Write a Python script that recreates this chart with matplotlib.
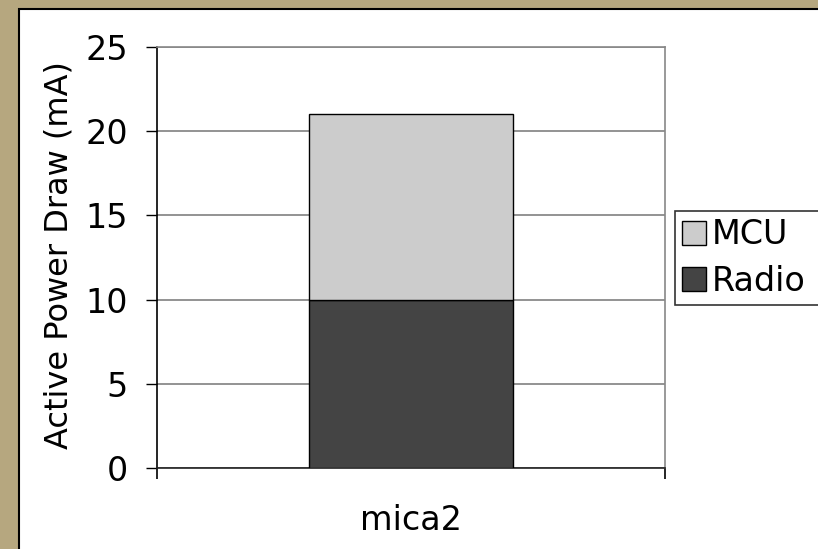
import matplotlib.pyplot as plt
from matplotlib.patches import Rectangle

# data
categories = ['mica2']
radio = [10]
mcu = [11]
series_names = ['MCU', 'Radio']

fig = plt.figure(figsize=(8.18, 5.49), dpi=100, facecolor='#b6a77f')

# white slide panel with black border
panel = Rectangle((19 / 818, -0.05), 1.1, (549 - 9) / 549 + 0.05,
                  transform=fig.transFigure, facecolor='white',
                  edgecolor='black', linewidth=1.5, zorder=-5)
fig.patches.append(panel)

ax = fig.add_axes([157 / 818, (549 - 468) / 549, (665 - 157) / 818, (468 - 47) / 549])
ax.set_facecolor('white')

x = list(range(len(categories)))
b1 = ax.bar(x, radio, width=0.40, color='#444444', edgecolor='black', linewidth=1, zorder=3)
b2 = ax.bar(x, mcu, bottom=radio, width=0.40, color='#cccccc', edgecolor='black', linewidth=1, zorder=3)

ax.set_xlim(-0.5, 0.5)
ax.set_ylim(0, 25)
ax.set_yticks([0, 5, 10, 15, 20, 25])
ax.grid(axis='y', color='#808080', linewidth=1.2, zorder=1)

# spines like excel
ax.spines['left'].set_color('black')
ax.spines['bottom'].set_color('#222222')
ax.spines['top'].set_color('#888888')
ax.spines['right'].set_color('#888888')
for s in ax.spines.values():
    s.set_linewidth(1.2)

ax.tick_params(axis='y', direction='out', length=8, width=1, pad=13, labelsize=24)
ax.set_xticks(x)
ax.set_xticklabels(categories)
ax.tick_params(axis='x', which='major', length=0, pad=26, labelsize=24)
ax.set_xticks([-0.5, 0.5], minor=True)
ax.tick_params(axis='x', which='minor', direction='out', length=8, width=1.2)

ax.set_ylabel('Active Power Draw (mA)', fontsize=23)
ax.yaxis.set_label_coords(-0.162, 0.506)

# legend box runs off the right edge like in the slide
leg = fig.legend([b2, b1], series_names, loc='upper left',
                 bbox_to_anchor=(675 / 818, (549 - 302) / 549, 0.2, 91 / 549),
                 mode='expand', fontsize=24,
                 frameon=True, fancybox=False, edgecolor='black',
                 handlelength=0.72, handleheight=0.72, handletextpad=0.15,
                 borderpad=0.22, labelspacing=0.4, borderaxespad=0)
leg.get_frame().set_linewidth(1.2)

plt.savefig('out.png', dpi=100, facecolor=fig.get_facecolor())
